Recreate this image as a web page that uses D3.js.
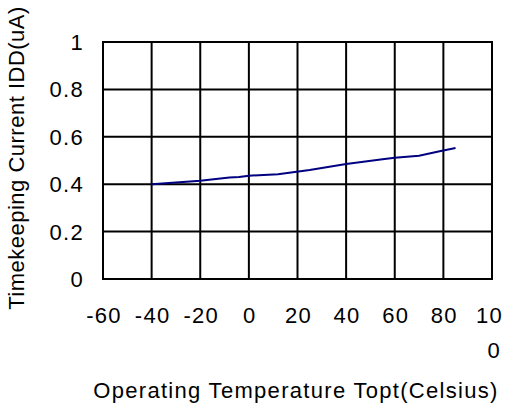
<!DOCTYPE html>
<meta charset="utf-8">
<script src="https://d3js.org/d3.v7.min.js"></script>
<style>
    body {margin: 0; background: #fff; font-family: 'Liberation Sans', Arial, sans-serif;}
    text {fill: #000; font-size: 22px; letter-spacing: 1.3px;}
</style>
<body>
<svg width="513" height="407"></svg>
<script>
    // readings
    const temps = [-40, -20, -8, -4, 0, 12, 25, 40, 55, 60, 70, 78, 85];
    const idd   = [0.40, 0.415, 0.428, 0.43, 0.436, 0.442, 0.46, 0.485, 0.505, 0.512, 0.52, 0.538, 0.553];
    const xTicks = [-60, -40, -20, 0, 20, 40, 60, 80, 100];
    const yTicks = [0, 0.2, 0.4, 0.6, 0.8, 1];

    var svg = d3.select("svg");
    var x = d3.scaleLinear().domain([-60, 100]).range([103, 492]);
    var y = d3.scaleLinear().domain([0, 1]).range([279, 42]);

    // grid
    var grid = svg.append("g").style("stroke", "#000").style("stroke-width", 2);
    grid.selectAll("line.v").data(xTicks).enter().append("line")
        .attr("x1", d => x(d)).attr("x2", d => x(d))
        .attr("y1", y(0)).attr("y2", y(1));
    grid.selectAll("line.h").data(yTicks).enter().append("line")
        .attr("x1", x(-60) - 1).attr("x2", x(100) + 1)
        .attr("y1", d => y(d)).attr("y2", d => y(d));

    // curve
    var pts = temps.map((t, i) => [t, idd[i]]);
    svg.append("path")
        .datum(pts)
        .attr("fill", "none")
        .attr("stroke", "#000080")
        .attr("stroke-width", 2)
        .attr("d", d3.line().x(d => x(d[0])).y(d => y(d[1])));

    // y tick labels
    svg.append("g").selectAll("text").data(yTicks).enter().append("text")
        .attr("x", 84)
        .attr("y", d => y(d) + 8)
        .attr("text-anchor", "end")
        .text(d => d);

    // x tick labels (100 wraps like the original)
    var xl = svg.append("g").selectAll("text").data(xTicks).enter().append("text")
        .attr("y", 323);
    xl.filter(d => d !== 100)
        .attr("x", d => x(d) + 1)
        .attr("text-anchor", "middle")
        .text(d => d);
    var hundred = xl.filter(d => d === 100).attr("text-anchor", "end");
    hundred.append("tspan").attr("x", d => x(d) + 11).text("10");
    hundred.append("tspan").attr("x", d => x(d) + 9).attr("y", 358).text("0");

    // axis titles
    svg.append("text")
        .attr("x", 296).attr("y", 398)
        .attr("text-anchor", "middle")
        .text("Operating Temperature Topt(Celsius)");
    svg.append("text")
        .attr("transform", "translate(24,158) rotate(-90)")
        .attr("text-anchor", "middle")
        .style("letter-spacing", "0.5px")
        .text("Timekeeping Current IDD(uA)");
</script>
</body>
